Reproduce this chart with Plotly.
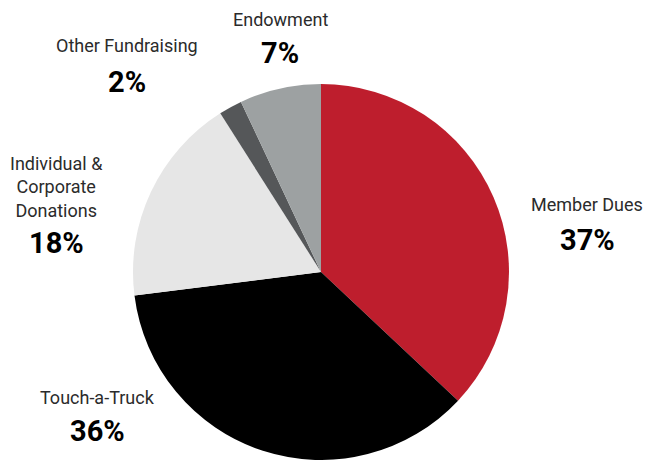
import plotly.graph_objects as go

W, H = 646, 460

# slices, clockwise from 12 o'clock
sources = ["Member Dues", "Touch-a-Truck", "Individual &<br>Corporate<br>Donations",
           "Other Fundraising", "Endowment"]
shares = [37, 36, 18, 2, 7]
colors = ["#be1e2d", "#000000", "#e6e6e6", "#555759", "#9da1a2"]

# label anchor points in pixels (centre x, label centre y, percent centre y)
label_pos = [
    (587, 204, 240),
    (97, 397, 431),
    (56, 187, 243),
    (127, 46, 82),
    (280, 20, 53),
]


def px(x):
    return x / W


def py(y):
    return 1 - y / H


cx, cy, r = 321, 272, 188

fig = go.Figure(
    go.Pie(
        labels=sources,
        values=shares,
        sort=False,
        direction="clockwise",
        rotation=0,
        marker=dict(colors=colors, line=dict(width=0)),
        textinfo="none",
        hoverinfo="label+percent",
        domain=dict(x=[px(cx - r), px(cx + r)], y=[0, py(cy - r)]),
    )
)

for name, val, (lx, ly, pcy) in zip(sources, shares, label_pos):
    fig.add_annotation(
        text=name, x=px(lx), y=py(ly), xref="paper", yref="paper",
        showarrow=False, xanchor="center", yanchor="middle",
        font=dict(family="Roboto", size=18, color="#2b2b2b"),
    )
    fig.add_annotation(
        text=f"{val}%", x=px(lx), y=py(pcy), xref="paper", yref="paper",
        showarrow=False, xanchor="center", yanchor="middle",
        font=dict(family="Roboto", size=29, color="#000000", weight="bold"),
    )

fig.update_layout(
    width=W,
    height=H,
    paper_bgcolor="white",
    plot_bgcolor="white",
    showlegend=False,
    margin=dict(l=0, r=0, t=0, b=0),
)

# drop the default 8px body margin so the figure fills the window exactly
fig.write_html(
    "out.html",
    config={"displayModeBar": False},
    post_script="document.body.style.margin='0';",
)
